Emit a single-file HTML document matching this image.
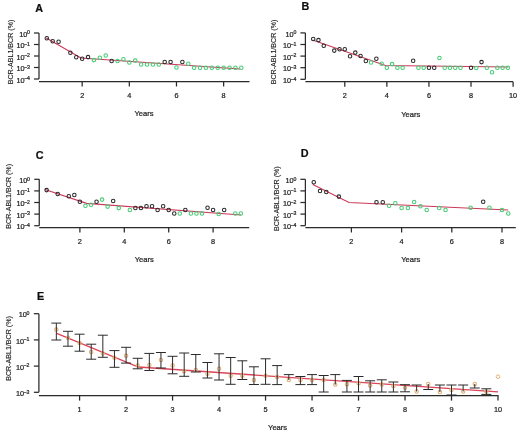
<!DOCTYPE html>
<html><head><meta charset="utf-8"><title>BCR-ABL1 kinetics</title>
<style>html,body{margin:0;padding:0;background:#fff;}body{width:520px;height:433px;overflow:hidden;}svg{display:block;}</style>
</head><body>
<svg width="520" height="433" viewBox="0 0 520 433" font-family='"Liberation Sans", sans-serif'>
<defs><filter id="bl" x="0" y="0" width="520" height="433" filterUnits="userSpaceOnUse"><feGaussianBlur stdDeviation="0.35"/></filter></defs>
<rect width="520" height="433" fill="#fff"/>
<g filter="url(#bl)">
<line x1="39" y1="33" x2="39" y2="79" stroke="#2a2a2a" stroke-width="1.25"/>
<line x1="34" y1="33" x2="39" y2="33" stroke="#2a2a2a" stroke-width="1.25"/>
<text x="30" y="34.3" font-size="5.2" text-anchor="end" font-weight="normal" fill="#222" stroke="#222" stroke-width="0.22">0</text>
<text x="27.3" y="36.6" font-size="7.3" text-anchor="end" font-weight="normal" fill="#222" stroke="#222" stroke-width="0.22">10</text>
<line x1="34" y1="44.5" x2="39" y2="44.5" stroke="#2a2a2a" stroke-width="1.25"/>
<text x="30" y="45.8" font-size="5.2" text-anchor="end" font-weight="normal" fill="#222" stroke="#222" stroke-width="0.22">&#8722;1</text>
<text x="24.7" y="48.1" font-size="7.3" text-anchor="end" font-weight="normal" fill="#222" stroke="#222" stroke-width="0.22">10</text>
<line x1="34" y1="56" x2="39" y2="56" stroke="#2a2a2a" stroke-width="1.25"/>
<text x="30" y="57.3" font-size="5.2" text-anchor="end" font-weight="normal" fill="#222" stroke="#222" stroke-width="0.22">&#8722;2</text>
<text x="24.7" y="59.6" font-size="7.3" text-anchor="end" font-weight="normal" fill="#222" stroke="#222" stroke-width="0.22">10</text>
<line x1="34" y1="67.5" x2="39" y2="67.5" stroke="#2a2a2a" stroke-width="1.25"/>
<text x="30" y="68.8" font-size="5.2" text-anchor="end" font-weight="normal" fill="#222" stroke="#222" stroke-width="0.22">&#8722;3</text>
<text x="24.7" y="71.1" font-size="7.3" text-anchor="end" font-weight="normal" fill="#222" stroke="#222" stroke-width="0.22">10</text>
<line x1="34" y1="79" x2="39" y2="79" stroke="#2a2a2a" stroke-width="1.25"/>
<text x="30" y="80.3" font-size="5.2" text-anchor="end" font-weight="normal" fill="#222" stroke="#222" stroke-width="0.22">&#8722;4</text>
<text x="24.7" y="82.6" font-size="7.3" text-anchor="end" font-weight="normal" fill="#222" stroke="#222" stroke-width="0.22">10</text>
<line x1="39" y1="81.5" x2="249.5" y2="81.5" stroke="#2a2a2a" stroke-width="1.25"/>
<line x1="82.16" y1="81.5" x2="82.16" y2="86.5" stroke="#2a2a2a" stroke-width="1.25"/>
<text x="82.16" y="98" font-size="7.3" text-anchor="middle" font-weight="normal" fill="#222" stroke="#222" stroke-width="0.22">2</text>
<line x1="129.32" y1="81.5" x2="129.32" y2="86.5" stroke="#2a2a2a" stroke-width="1.25"/>
<text x="129.32" y="98" font-size="7.3" text-anchor="middle" font-weight="normal" fill="#222" stroke="#222" stroke-width="0.22">4</text>
<line x1="176.48" y1="81.5" x2="176.48" y2="86.5" stroke="#2a2a2a" stroke-width="1.25"/>
<text x="176.48" y="98" font-size="7.3" text-anchor="middle" font-weight="normal" fill="#222" stroke="#222" stroke-width="0.22">6</text>
<line x1="223.64" y1="81.5" x2="223.64" y2="86.5" stroke="#2a2a2a" stroke-width="1.25"/>
<text x="223.64" y="98" font-size="7.3" text-anchor="middle" font-weight="normal" fill="#222" stroke="#222" stroke-width="0.22">8</text>
<text x="144" y="116.3" font-size="7.6" text-anchor="middle" font-weight="normal" fill="#222" stroke="#222" stroke-width="0.22">Years</text>
<text x="13.2" y="52" font-size="7.1" text-anchor="middle" font-weight="normal" fill="#222" stroke="#222" stroke-width="0.14" transform="rotate(-90 13.2 52)">BCR-ABL1/BCR (%)</text>
<text x="35.3" y="12" font-size="10.8" text-anchor="start" font-weight="bold" fill="#111" stroke="#111" stroke-width="0.22">A</text>
<polyline fill="none" stroke="#cc3858" stroke-width="1.2" points="46.3,38 81,58 240,69"/>
<circle cx="46.79" cy="38.3" r="1.75" fill="none" stroke="#2a2a2a" stroke-width="1.05"/>
<circle cx="52.69" cy="41.2" r="1.75" fill="none" stroke="#2a2a2a" stroke-width="1.05"/>
<circle cx="58.58" cy="41.8" r="1.75" fill="none" stroke="#2a2a2a" stroke-width="1.05"/>
<circle cx="70.37" cy="52.7" r="1.75" fill="none" stroke="#2a2a2a" stroke-width="1.05"/>
<circle cx="76.27" cy="57.3" r="1.75" fill="none" stroke="#2a2a2a" stroke-width="1.05"/>
<circle cx="82.16" cy="58.8" r="1.75" fill="none" stroke="#2a2a2a" stroke-width="1.05"/>
<circle cx="88.05" cy="57.1" r="1.75" fill="none" stroke="#2a2a2a" stroke-width="1.05"/>
<circle cx="93.95" cy="60.1" r="1.75" fill="none" stroke="#45cc75" stroke-width="1.05"/>
<circle cx="99.84" cy="57.7" r="1.75" fill="none" stroke="#45cc75" stroke-width="1.05"/>
<circle cx="105.74" cy="55.5" r="1.75" fill="none" stroke="#45cc75" stroke-width="1.05"/>
<circle cx="111.63" cy="61" r="1.75" fill="none" stroke="#2a2a2a" stroke-width="1.05"/>
<circle cx="117.53" cy="60.9" r="1.75" fill="none" stroke="#45cc75" stroke-width="1.05"/>
<circle cx="123.42" cy="59.2" r="1.75" fill="none" stroke="#45cc75" stroke-width="1.05"/>
<circle cx="129.32" cy="62.4" r="1.75" fill="none" stroke="#45cc75" stroke-width="1.05"/>
<circle cx="135.21" cy="60.6" r="1.75" fill="none" stroke="#45cc75" stroke-width="1.05"/>
<circle cx="141.11" cy="64.4" r="1.75" fill="none" stroke="#45cc75" stroke-width="1.05"/>
<circle cx="147" cy="64.4" r="1.75" fill="none" stroke="#45cc75" stroke-width="1.05"/>
<circle cx="152.9" cy="64.4" r="1.75" fill="none" stroke="#45cc75" stroke-width="1.05"/>
<circle cx="158.79" cy="64.5" r="1.75" fill="none" stroke="#45cc75" stroke-width="1.05"/>
<circle cx="164.69" cy="62" r="1.75" fill="none" stroke="#2a2a2a" stroke-width="1.05"/>
<circle cx="170.58" cy="62" r="1.75" fill="none" stroke="#2a2a2a" stroke-width="1.05"/>
<circle cx="176.48" cy="67.5" r="1.75" fill="none" stroke="#45cc75" stroke-width="1.05"/>
<circle cx="182.38" cy="61.9" r="1.75" fill="none" stroke="#2a2a2a" stroke-width="1.05"/>
<circle cx="188.27" cy="63.8" r="1.75" fill="none" stroke="#45cc75" stroke-width="1.05"/>
<circle cx="194.16" cy="67.8" r="1.75" fill="none" stroke="#45cc75" stroke-width="1.05"/>
<circle cx="200.06" cy="67.8" r="1.75" fill="none" stroke="#45cc75" stroke-width="1.05"/>
<circle cx="205.95" cy="67.8" r="1.75" fill="none" stroke="#45cc75" stroke-width="1.05"/>
<circle cx="211.85" cy="67.8" r="1.75" fill="none" stroke="#45cc75" stroke-width="1.05"/>
<circle cx="217.74" cy="67.8" r="1.75" fill="none" stroke="#45cc75" stroke-width="1.05"/>
<circle cx="223.64" cy="67.8" r="1.75" fill="none" stroke="#45cc75" stroke-width="1.05"/>
<circle cx="229.53" cy="67.8" r="1.75" fill="none" stroke="#45cc75" stroke-width="1.05"/>
<circle cx="235.43" cy="67.8" r="1.75" fill="none" stroke="#45cc75" stroke-width="1.05"/>
<circle cx="241.32" cy="67.8" r="1.75" fill="none" stroke="#45cc75" stroke-width="1.05"/>
<line x1="305.4" y1="32.9" x2="305.4" y2="79.3" stroke="#2a2a2a" stroke-width="1.25"/>
<line x1="300.4" y1="32.9" x2="305.4" y2="32.9" stroke="#2a2a2a" stroke-width="1.25"/>
<text x="296.4" y="34.2" font-size="5.2" text-anchor="end" font-weight="normal" fill="#222" stroke="#222" stroke-width="0.22">0</text>
<text x="293.7" y="36.5" font-size="7.3" text-anchor="end" font-weight="normal" fill="#222" stroke="#222" stroke-width="0.22">10</text>
<line x1="300.4" y1="44.5" x2="305.4" y2="44.5" stroke="#2a2a2a" stroke-width="1.25"/>
<text x="296.4" y="45.8" font-size="5.2" text-anchor="end" font-weight="normal" fill="#222" stroke="#222" stroke-width="0.22">&#8722;1</text>
<text x="291.1" y="48.1" font-size="7.3" text-anchor="end" font-weight="normal" fill="#222" stroke="#222" stroke-width="0.22">10</text>
<line x1="300.4" y1="56.1" x2="305.4" y2="56.1" stroke="#2a2a2a" stroke-width="1.25"/>
<text x="296.4" y="57.4" font-size="5.2" text-anchor="end" font-weight="normal" fill="#222" stroke="#222" stroke-width="0.22">&#8722;2</text>
<text x="291.1" y="59.7" font-size="7.3" text-anchor="end" font-weight="normal" fill="#222" stroke="#222" stroke-width="0.22">10</text>
<line x1="300.4" y1="67.7" x2="305.4" y2="67.7" stroke="#2a2a2a" stroke-width="1.25"/>
<text x="296.4" y="69" font-size="5.2" text-anchor="end" font-weight="normal" fill="#222" stroke="#222" stroke-width="0.22">&#8722;3</text>
<text x="291.1" y="71.3" font-size="7.3" text-anchor="end" font-weight="normal" fill="#222" stroke="#222" stroke-width="0.22">10</text>
<line x1="300.4" y1="79.3" x2="305.4" y2="79.3" stroke="#2a2a2a" stroke-width="1.25"/>
<text x="296.4" y="80.6" font-size="5.2" text-anchor="end" font-weight="normal" fill="#222" stroke="#222" stroke-width="0.22">&#8722;4</text>
<text x="291.1" y="82.9" font-size="7.3" text-anchor="end" font-weight="normal" fill="#222" stroke="#222" stroke-width="0.22">10</text>
<line x1="305.4" y1="81.65" x2="513.1" y2="81.65" stroke="#2a2a2a" stroke-width="1.25"/>
<line x1="344.78" y1="81.65" x2="344.78" y2="86.65" stroke="#2a2a2a" stroke-width="1.25"/>
<text x="344.78" y="98" font-size="7.3" text-anchor="middle" font-weight="normal" fill="#222" stroke="#222" stroke-width="0.22">2</text>
<line x1="386.86" y1="81.65" x2="386.86" y2="86.65" stroke="#2a2a2a" stroke-width="1.25"/>
<text x="386.86" y="98" font-size="7.3" text-anchor="middle" font-weight="normal" fill="#222" stroke="#222" stroke-width="0.22">4</text>
<line x1="428.94" y1="81.65" x2="428.94" y2="86.65" stroke="#2a2a2a" stroke-width="1.25"/>
<text x="428.94" y="98" font-size="7.3" text-anchor="middle" font-weight="normal" fill="#222" stroke="#222" stroke-width="0.22">6</text>
<line x1="471.02" y1="81.65" x2="471.02" y2="86.65" stroke="#2a2a2a" stroke-width="1.25"/>
<text x="471.02" y="98" font-size="7.3" text-anchor="middle" font-weight="normal" fill="#222" stroke="#222" stroke-width="0.22">8</text>
<line x1="513.1" y1="81.65" x2="513.1" y2="86.65" stroke="#2a2a2a" stroke-width="1.25"/>
<text x="513.1" y="98" font-size="7.3" text-anchor="middle" font-weight="normal" fill="#222" stroke="#222" stroke-width="0.22">10</text>
<text x="410.75" y="116.5" font-size="7.6" text-anchor="middle" font-weight="normal" fill="#222" stroke="#222" stroke-width="0.22">Years</text>
<text x="275.6" y="52" font-size="7.1" text-anchor="middle" font-weight="normal" fill="#222" stroke="#222" stroke-width="0.14" transform="rotate(-90 275.6 52)">BCR-ABL1/BCR (%)</text>
<text x="301.6" y="9.7" font-size="10.8" text-anchor="start" font-weight="bold" fill="#111" stroke="#111" stroke-width="0.22">B</text>
<polyline fill="none" stroke="#cc3858" stroke-width="1.2" points="312.5,40 385.5,65.5 508.5,67"/>
<circle cx="313.22" cy="39" r="1.75" fill="none" stroke="#2a2a2a" stroke-width="1.05"/>
<circle cx="318.48" cy="40.1" r="1.75" fill="none" stroke="#2a2a2a" stroke-width="1.05"/>
<circle cx="323.74" cy="45.7" r="1.75" fill="none" stroke="#2a2a2a" stroke-width="1.05"/>
<circle cx="334.26" cy="50.6" r="1.75" fill="none" stroke="#2a2a2a" stroke-width="1.05"/>
<circle cx="339.52" cy="49.2" r="1.75" fill="none" stroke="#2a2a2a" stroke-width="1.05"/>
<circle cx="344.78" cy="49.2" r="1.75" fill="none" stroke="#2a2a2a" stroke-width="1.05"/>
<circle cx="350.04" cy="56.2" r="1.75" fill="none" stroke="#2a2a2a" stroke-width="1.05"/>
<circle cx="355.3" cy="52.6" r="1.75" fill="none" stroke="#2a2a2a" stroke-width="1.05"/>
<circle cx="360.56" cy="56" r="1.75" fill="none" stroke="#2a2a2a" stroke-width="1.05"/>
<circle cx="365.82" cy="60.9" r="1.75" fill="none" stroke="#2a2a2a" stroke-width="1.05"/>
<circle cx="371.08" cy="62.5" r="1.75" fill="none" stroke="#45cc75" stroke-width="1.05"/>
<circle cx="376.34" cy="58.7" r="1.75" fill="none" stroke="#2a2a2a" stroke-width="1.05"/>
<circle cx="381.6" cy="63.8" r="1.75" fill="none" stroke="#45cc75" stroke-width="1.05"/>
<circle cx="386.86" cy="67.8" r="1.75" fill="none" stroke="#45cc75" stroke-width="1.05"/>
<circle cx="392.12" cy="64.1" r="1.75" fill="none" stroke="#45cc75" stroke-width="1.05"/>
<circle cx="397.38" cy="67.8" r="1.75" fill="none" stroke="#45cc75" stroke-width="1.05"/>
<circle cx="402.64" cy="67.8" r="1.75" fill="none" stroke="#45cc75" stroke-width="1.05"/>
<circle cx="413.16" cy="60.8" r="1.75" fill="none" stroke="#2a2a2a" stroke-width="1.05"/>
<circle cx="418.42" cy="67.8" r="1.75" fill="none" stroke="#45cc75" stroke-width="1.05"/>
<circle cx="423.68" cy="67.8" r="1.75" fill="none" stroke="#45cc75" stroke-width="1.05"/>
<circle cx="428.94" cy="67.8" r="1.75" fill="none" stroke="#2a2a2a" stroke-width="1.05"/>
<circle cx="434.2" cy="67.8" r="1.75" fill="none" stroke="#2a2a2a" stroke-width="1.05"/>
<circle cx="439.46" cy="58" r="1.75" fill="none" stroke="#45cc75" stroke-width="1.05"/>
<circle cx="444.72" cy="67.8" r="1.75" fill="none" stroke="#45cc75" stroke-width="1.05"/>
<circle cx="449.98" cy="67.8" r="1.75" fill="none" stroke="#45cc75" stroke-width="1.05"/>
<circle cx="455.24" cy="67.8" r="1.75" fill="none" stroke="#45cc75" stroke-width="1.05"/>
<circle cx="460.5" cy="67.8" r="1.75" fill="none" stroke="#45cc75" stroke-width="1.05"/>
<circle cx="471.02" cy="67.8" r="1.75" fill="none" stroke="#2a2a2a" stroke-width="1.05"/>
<circle cx="476.28" cy="68" r="1.75" fill="none" stroke="#45cc75" stroke-width="1.05"/>
<circle cx="481.54" cy="62.1" r="1.75" fill="none" stroke="#2a2a2a" stroke-width="1.05"/>
<circle cx="486.8" cy="67.8" r="1.75" fill="none" stroke="#45cc75" stroke-width="1.05"/>
<circle cx="492.06" cy="72.3" r="1.75" fill="none" stroke="#45cc75" stroke-width="1.05"/>
<circle cx="497.32" cy="67.8" r="1.75" fill="none" stroke="#45cc75" stroke-width="1.05"/>
<circle cx="502.58" cy="67.8" r="1.75" fill="none" stroke="#45cc75" stroke-width="1.05"/>
<circle cx="507.84" cy="67.8" r="1.75" fill="none" stroke="#45cc75" stroke-width="1.05"/>
<line x1="39.25" y1="179.3" x2="39.25" y2="225.7" stroke="#2a2a2a" stroke-width="1.25"/>
<line x1="34.25" y1="179.3" x2="39.25" y2="179.3" stroke="#2a2a2a" stroke-width="1.25"/>
<text x="30" y="180.6" font-size="5.2" text-anchor="end" font-weight="normal" fill="#222" stroke="#222" stroke-width="0.22">0</text>
<text x="27.3" y="182.9" font-size="7.3" text-anchor="end" font-weight="normal" fill="#222" stroke="#222" stroke-width="0.22">10</text>
<line x1="34.25" y1="190.9" x2="39.25" y2="190.9" stroke="#2a2a2a" stroke-width="1.25"/>
<text x="30" y="192.2" font-size="5.2" text-anchor="end" font-weight="normal" fill="#222" stroke="#222" stroke-width="0.22">&#8722;1</text>
<text x="24.7" y="194.5" font-size="7.3" text-anchor="end" font-weight="normal" fill="#222" stroke="#222" stroke-width="0.22">10</text>
<line x1="34.25" y1="202.5" x2="39.25" y2="202.5" stroke="#2a2a2a" stroke-width="1.25"/>
<text x="30" y="203.8" font-size="5.2" text-anchor="end" font-weight="normal" fill="#222" stroke="#222" stroke-width="0.22">&#8722;2</text>
<text x="24.7" y="206.1" font-size="7.3" text-anchor="end" font-weight="normal" fill="#222" stroke="#222" stroke-width="0.22">10</text>
<line x1="34.25" y1="214.1" x2="39.25" y2="214.1" stroke="#2a2a2a" stroke-width="1.25"/>
<text x="30" y="215.4" font-size="5.2" text-anchor="end" font-weight="normal" fill="#222" stroke="#222" stroke-width="0.22">&#8722;3</text>
<text x="24.7" y="217.7" font-size="7.3" text-anchor="end" font-weight="normal" fill="#222" stroke="#222" stroke-width="0.22">10</text>
<line x1="34.25" y1="225.7" x2="39.25" y2="225.7" stroke="#2a2a2a" stroke-width="1.25"/>
<text x="30" y="227" font-size="5.2" text-anchor="end" font-weight="normal" fill="#222" stroke="#222" stroke-width="0.22">&#8722;4</text>
<text x="24.7" y="229.3" font-size="7.3" text-anchor="end" font-weight="normal" fill="#222" stroke="#222" stroke-width="0.22">10</text>
<line x1="39.25" y1="227.5" x2="249.2" y2="227.5" stroke="#2a2a2a" stroke-width="1.25"/>
<line x1="79.9" y1="227.5" x2="79.9" y2="232.5" stroke="#2a2a2a" stroke-width="1.25"/>
<text x="79.9" y="244" font-size="7.3" text-anchor="middle" font-weight="normal" fill="#222" stroke="#222" stroke-width="0.22">2</text>
<line x1="124.3" y1="227.5" x2="124.3" y2="232.5" stroke="#2a2a2a" stroke-width="1.25"/>
<text x="124.3" y="244" font-size="7.3" text-anchor="middle" font-weight="normal" fill="#222" stroke="#222" stroke-width="0.22">4</text>
<line x1="168.7" y1="227.5" x2="168.7" y2="232.5" stroke="#2a2a2a" stroke-width="1.25"/>
<text x="168.7" y="244" font-size="7.3" text-anchor="middle" font-weight="normal" fill="#222" stroke="#222" stroke-width="0.22">6</text>
<line x1="213.1" y1="227.5" x2="213.1" y2="232.5" stroke="#2a2a2a" stroke-width="1.25"/>
<text x="213.1" y="244" font-size="7.3" text-anchor="middle" font-weight="normal" fill="#222" stroke="#222" stroke-width="0.22">8</text>
<text x="144.25" y="262" font-size="7.6" text-anchor="middle" font-weight="normal" fill="#222" stroke="#222" stroke-width="0.22">Years</text>
<text x="10.7" y="196.3" font-size="7.1" text-anchor="middle" font-weight="normal" fill="#222" stroke="#222" stroke-width="0.14" transform="rotate(-90 10.7 196.3)">BCR-ABL1/BCR (%)</text>
<text x="35.75" y="158.5" font-size="10.8" text-anchor="start" font-weight="bold" fill="#111" stroke="#111" stroke-width="0.22">C</text>
<polyline fill="none" stroke="#cc3858" stroke-width="1.2" points="44.9,189.5 86.6,203.4 241,215"/>
<circle cx="46.6" cy="190.1" r="1.75" fill="none" stroke="#2a2a2a" stroke-width="1.05"/>
<circle cx="57.7" cy="193.9" r="1.75" fill="none" stroke="#2a2a2a" stroke-width="1.05"/>
<circle cx="68.8" cy="196.3" r="1.75" fill="none" stroke="#2a2a2a" stroke-width="1.05"/>
<circle cx="74.35" cy="195" r="1.75" fill="none" stroke="#2a2a2a" stroke-width="1.05"/>
<circle cx="79.9" cy="201.7" r="1.75" fill="none" stroke="#2a2a2a" stroke-width="1.05"/>
<circle cx="85.45" cy="205.7" r="1.75" fill="none" stroke="#45cc75" stroke-width="1.05"/>
<circle cx="91" cy="204.8" r="1.75" fill="none" stroke="#45cc75" stroke-width="1.05"/>
<circle cx="96.55" cy="201.7" r="1.75" fill="none" stroke="#2a2a2a" stroke-width="1.05"/>
<circle cx="102.1" cy="199.6" r="1.75" fill="none" stroke="#45cc75" stroke-width="1.05"/>
<circle cx="107.65" cy="206.6" r="1.75" fill="none" stroke="#45cc75" stroke-width="1.05"/>
<circle cx="113.2" cy="200.9" r="1.75" fill="none" stroke="#2a2a2a" stroke-width="1.05"/>
<circle cx="118.75" cy="208.1" r="1.75" fill="none" stroke="#45cc75" stroke-width="1.05"/>
<circle cx="129.85" cy="210" r="1.75" fill="none" stroke="#45cc75" stroke-width="1.05"/>
<circle cx="135.4" cy="208" r="1.75" fill="none" stroke="#2a2a2a" stroke-width="1.05"/>
<circle cx="140.95" cy="208" r="1.75" fill="none" stroke="#2a2a2a" stroke-width="1.05"/>
<circle cx="146.5" cy="206.3" r="1.75" fill="none" stroke="#2a2a2a" stroke-width="1.05"/>
<circle cx="152.05" cy="206.3" r="1.75" fill="none" stroke="#2a2a2a" stroke-width="1.05"/>
<circle cx="157.6" cy="210" r="1.75" fill="none" stroke="#2a2a2a" stroke-width="1.05"/>
<circle cx="163.15" cy="206.3" r="1.75" fill="none" stroke="#2a2a2a" stroke-width="1.05"/>
<circle cx="168.7" cy="210" r="1.75" fill="none" stroke="#2a2a2a" stroke-width="1.05"/>
<circle cx="174.25" cy="213.5" r="1.75" fill="none" stroke="#2a2a2a" stroke-width="1.05"/>
<circle cx="179.8" cy="213.5" r="1.75" fill="none" stroke="#45cc75" stroke-width="1.05"/>
<circle cx="185.35" cy="210" r="1.75" fill="none" stroke="#2a2a2a" stroke-width="1.05"/>
<circle cx="190.9" cy="213.5" r="1.75" fill="none" stroke="#45cc75" stroke-width="1.05"/>
<circle cx="196.45" cy="213.5" r="1.75" fill="none" stroke="#45cc75" stroke-width="1.05"/>
<circle cx="202" cy="213.5" r="1.75" fill="none" stroke="#45cc75" stroke-width="1.05"/>
<circle cx="207.55" cy="207.7" r="1.75" fill="none" stroke="#2a2a2a" stroke-width="1.05"/>
<circle cx="213.1" cy="210" r="1.75" fill="none" stroke="#2a2a2a" stroke-width="1.05"/>
<circle cx="218.65" cy="214" r="1.75" fill="none" stroke="#45cc75" stroke-width="1.05"/>
<circle cx="224.2" cy="210" r="1.75" fill="none" stroke="#2a2a2a" stroke-width="1.05"/>
<circle cx="235.3" cy="213.5" r="1.75" fill="none" stroke="#45cc75" stroke-width="1.05"/>
<circle cx="240.85" cy="213.5" r="1.75" fill="none" stroke="#45cc75" stroke-width="1.05"/>
<line x1="305.4" y1="179.3" x2="305.4" y2="225.7" stroke="#2a2a2a" stroke-width="1.25"/>
<line x1="300.4" y1="179.3" x2="305.4" y2="179.3" stroke="#2a2a2a" stroke-width="1.25"/>
<text x="296.4" y="180.6" font-size="5.2" text-anchor="end" font-weight="normal" fill="#222" stroke="#222" stroke-width="0.22">0</text>
<text x="293.7" y="182.9" font-size="7.3" text-anchor="end" font-weight="normal" fill="#222" stroke="#222" stroke-width="0.22">10</text>
<line x1="300.4" y1="190.9" x2="305.4" y2="190.9" stroke="#2a2a2a" stroke-width="1.25"/>
<text x="296.4" y="192.2" font-size="5.2" text-anchor="end" font-weight="normal" fill="#222" stroke="#222" stroke-width="0.22">&#8722;1</text>
<text x="291.1" y="194.5" font-size="7.3" text-anchor="end" font-weight="normal" fill="#222" stroke="#222" stroke-width="0.22">10</text>
<line x1="300.4" y1="202.5" x2="305.4" y2="202.5" stroke="#2a2a2a" stroke-width="1.25"/>
<text x="296.4" y="203.8" font-size="5.2" text-anchor="end" font-weight="normal" fill="#222" stroke="#222" stroke-width="0.22">&#8722;2</text>
<text x="291.1" y="206.1" font-size="7.3" text-anchor="end" font-weight="normal" fill="#222" stroke="#222" stroke-width="0.22">10</text>
<line x1="300.4" y1="214.1" x2="305.4" y2="214.1" stroke="#2a2a2a" stroke-width="1.25"/>
<text x="296.4" y="215.4" font-size="5.2" text-anchor="end" font-weight="normal" fill="#222" stroke="#222" stroke-width="0.22">&#8722;3</text>
<text x="291.1" y="217.7" font-size="7.3" text-anchor="end" font-weight="normal" fill="#222" stroke="#222" stroke-width="0.22">10</text>
<line x1="300.4" y1="225.7" x2="305.4" y2="225.7" stroke="#2a2a2a" stroke-width="1.25"/>
<text x="296.4" y="227" font-size="5.2" text-anchor="end" font-weight="normal" fill="#222" stroke="#222" stroke-width="0.22">&#8722;4</text>
<text x="291.1" y="229.3" font-size="7.3" text-anchor="end" font-weight="normal" fill="#222" stroke="#222" stroke-width="0.22">10</text>
<line x1="305.4" y1="227.5" x2="515.8" y2="227.5" stroke="#2a2a2a" stroke-width="1.25"/>
<line x1="351.4" y1="227.5" x2="351.4" y2="232.5" stroke="#2a2a2a" stroke-width="1.25"/>
<text x="351.4" y="244" font-size="7.3" text-anchor="middle" font-weight="normal" fill="#222" stroke="#222" stroke-width="0.22">2</text>
<line x1="401.6" y1="227.5" x2="401.6" y2="232.5" stroke="#2a2a2a" stroke-width="1.25"/>
<text x="401.6" y="244" font-size="7.3" text-anchor="middle" font-weight="normal" fill="#222" stroke="#222" stroke-width="0.22">4</text>
<line x1="451.8" y1="227.5" x2="451.8" y2="232.5" stroke="#2a2a2a" stroke-width="1.25"/>
<text x="451.8" y="244" font-size="7.3" text-anchor="middle" font-weight="normal" fill="#222" stroke="#222" stroke-width="0.22">6</text>
<line x1="502" y1="227.5" x2="502" y2="232.5" stroke="#2a2a2a" stroke-width="1.25"/>
<text x="502" y="244" font-size="7.3" text-anchor="middle" font-weight="normal" fill="#222" stroke="#222" stroke-width="0.22">8</text>
<text x="410.75" y="262" font-size="7.6" text-anchor="middle" font-weight="normal" fill="#222" stroke="#222" stroke-width="0.22">Years</text>
<text x="278.8" y="198.6" font-size="7.1" text-anchor="middle" font-weight="normal" fill="#222" stroke="#222" stroke-width="0.14" transform="rotate(-90 278.8 198.6)">BCR-ABL1/BCR (%)</text>
<text x="300.75" y="157.3" font-size="10.8" text-anchor="start" font-weight="bold" fill="#111" stroke="#111" stroke-width="0.22">D</text>
<polyline fill="none" stroke="#cc3858" stroke-width="1.2" points="312.8,184.5 349,202.5 508.2,210"/>
<circle cx="313.75" cy="182.3" r="1.75" fill="none" stroke="#2a2a2a" stroke-width="1.05"/>
<circle cx="320.02" cy="190.9" r="1.75" fill="none" stroke="#2a2a2a" stroke-width="1.05"/>
<circle cx="326.3" cy="192" r="1.75" fill="none" stroke="#2a2a2a" stroke-width="1.05"/>
<circle cx="338.85" cy="196.6" r="1.75" fill="none" stroke="#2a2a2a" stroke-width="1.05"/>
<circle cx="376.5" cy="202.2" r="1.75" fill="none" stroke="#2a2a2a" stroke-width="1.05"/>
<circle cx="382.77" cy="202.2" r="1.75" fill="none" stroke="#2a2a2a" stroke-width="1.05"/>
<circle cx="389.05" cy="205.8" r="1.75" fill="none" stroke="#45cc75" stroke-width="1.05"/>
<circle cx="395.32" cy="203.2" r="1.75" fill="none" stroke="#45cc75" stroke-width="1.05"/>
<circle cx="401.6" cy="208" r="1.75" fill="none" stroke="#45cc75" stroke-width="1.05"/>
<circle cx="407.88" cy="208" r="1.75" fill="none" stroke="#45cc75" stroke-width="1.05"/>
<circle cx="414.15" cy="202" r="1.75" fill="none" stroke="#45cc75" stroke-width="1.05"/>
<circle cx="420.43" cy="206.3" r="1.75" fill="none" stroke="#45cc75" stroke-width="1.05"/>
<circle cx="426.7" cy="210" r="1.75" fill="none" stroke="#45cc75" stroke-width="1.05"/>
<circle cx="439.25" cy="208" r="1.75" fill="none" stroke="#45cc75" stroke-width="1.05"/>
<circle cx="445.52" cy="210" r="1.75" fill="none" stroke="#45cc75" stroke-width="1.05"/>
<circle cx="470.62" cy="207.8" r="1.75" fill="none" stroke="#45cc75" stroke-width="1.05"/>
<circle cx="483.18" cy="201.8" r="1.75" fill="none" stroke="#2a2a2a" stroke-width="1.05"/>
<circle cx="489.45" cy="207.8" r="1.75" fill="none" stroke="#45cc75" stroke-width="1.05"/>
<circle cx="502" cy="210" r="1.75" fill="none" stroke="#45cc75" stroke-width="1.05"/>
<circle cx="508.27" cy="213.5" r="1.75" fill="none" stroke="#45cc75" stroke-width="1.05"/>
<line x1="38.9" y1="313.7" x2="38.9" y2="392.3" stroke="#2a2a2a" stroke-width="1.25"/>
<line x1="33.9" y1="313.7" x2="38.9" y2="313.7" stroke="#2a2a2a" stroke-width="1.25"/>
<text x="29.5" y="315" font-size="5.2" text-anchor="end" font-weight="normal" fill="#222" stroke="#222" stroke-width="0.22">0</text>
<text x="26.8" y="317.3" font-size="7.3" text-anchor="end" font-weight="normal" fill="#222" stroke="#222" stroke-width="0.22">10</text>
<line x1="33.9" y1="339.9" x2="38.9" y2="339.9" stroke="#2a2a2a" stroke-width="1.25"/>
<text x="29.5" y="341.2" font-size="5.2" text-anchor="end" font-weight="normal" fill="#222" stroke="#222" stroke-width="0.22">&#8722;1</text>
<text x="24.2" y="343.5" font-size="7.3" text-anchor="end" font-weight="normal" fill="#222" stroke="#222" stroke-width="0.22">10</text>
<line x1="33.9" y1="366.1" x2="38.9" y2="366.1" stroke="#2a2a2a" stroke-width="1.25"/>
<text x="29.5" y="367.4" font-size="5.2" text-anchor="end" font-weight="normal" fill="#222" stroke="#222" stroke-width="0.22">&#8722;2</text>
<text x="24.2" y="369.7" font-size="7.3" text-anchor="end" font-weight="normal" fill="#222" stroke="#222" stroke-width="0.22">10</text>
<line x1="33.9" y1="392.3" x2="38.9" y2="392.3" stroke="#2a2a2a" stroke-width="1.25"/>
<text x="29.5" y="393.6" font-size="5.2" text-anchor="end" font-weight="normal" fill="#222" stroke="#222" stroke-width="0.22">&#8722;3</text>
<text x="24.2" y="395.9" font-size="7.3" text-anchor="end" font-weight="normal" fill="#222" stroke="#222" stroke-width="0.22">10</text>
<line x1="38.9" y1="395.6" x2="498.5" y2="395.6" stroke="#2a2a2a" stroke-width="1.25"/>
<line x1="79.59" y1="395.6" x2="79.59" y2="400.6" stroke="#2a2a2a" stroke-width="1.25"/>
<text x="79.59" y="412" font-size="7.3" text-anchor="middle" font-weight="normal" fill="#222" stroke="#222" stroke-width="0.22">1</text>
<line x1="126.08" y1="395.6" x2="126.08" y2="400.6" stroke="#2a2a2a" stroke-width="1.25"/>
<text x="126.08" y="412" font-size="7.3" text-anchor="middle" font-weight="normal" fill="#222" stroke="#222" stroke-width="0.22">2</text>
<line x1="172.57" y1="395.6" x2="172.57" y2="400.6" stroke="#2a2a2a" stroke-width="1.25"/>
<text x="172.57" y="412" font-size="7.3" text-anchor="middle" font-weight="normal" fill="#222" stroke="#222" stroke-width="0.22">3</text>
<line x1="219.06" y1="395.6" x2="219.06" y2="400.6" stroke="#2a2a2a" stroke-width="1.25"/>
<text x="219.06" y="412" font-size="7.3" text-anchor="middle" font-weight="normal" fill="#222" stroke="#222" stroke-width="0.22">4</text>
<line x1="265.55" y1="395.6" x2="265.55" y2="400.6" stroke="#2a2a2a" stroke-width="1.25"/>
<text x="265.55" y="412" font-size="7.3" text-anchor="middle" font-weight="normal" fill="#222" stroke="#222" stroke-width="0.22">5</text>
<line x1="312.04" y1="395.6" x2="312.04" y2="400.6" stroke="#2a2a2a" stroke-width="1.25"/>
<text x="312.04" y="412" font-size="7.3" text-anchor="middle" font-weight="normal" fill="#222" stroke="#222" stroke-width="0.22">6</text>
<line x1="358.53" y1="395.6" x2="358.53" y2="400.6" stroke="#2a2a2a" stroke-width="1.25"/>
<text x="358.53" y="412" font-size="7.3" text-anchor="middle" font-weight="normal" fill="#222" stroke="#222" stroke-width="0.22">7</text>
<line x1="405.02" y1="395.6" x2="405.02" y2="400.6" stroke="#2a2a2a" stroke-width="1.25"/>
<text x="405.02" y="412" font-size="7.3" text-anchor="middle" font-weight="normal" fill="#222" stroke="#222" stroke-width="0.22">8</text>
<line x1="451.51" y1="395.6" x2="451.51" y2="400.6" stroke="#2a2a2a" stroke-width="1.25"/>
<text x="451.51" y="412" font-size="7.3" text-anchor="middle" font-weight="normal" fill="#222" stroke="#222" stroke-width="0.22">9</text>
<line x1="498" y1="395.6" x2="498" y2="400.6" stroke="#2a2a2a" stroke-width="1.25"/>
<text x="498" y="412" font-size="7.3" text-anchor="middle" font-weight="normal" fill="#222" stroke="#222" stroke-width="0.22">10</text>
<text x="277.6" y="430.4" font-size="7.6" text-anchor="middle" font-weight="normal" fill="#222" stroke="#222" stroke-width="0.22">Years</text>
<text x="11" y="348.5" font-size="7.1" text-anchor="middle" font-weight="normal" fill="#222" stroke="#222" stroke-width="0.14" transform="rotate(-90 11 348.5)">BCR-ABL1/BCR (%)</text>
<text x="37.1" y="299.6" font-size="10.8" text-anchor="start" font-weight="bold" fill="#111" stroke="#111" stroke-width="0.22">E</text>
<polyline fill="none" stroke="#dc4458" stroke-width="1.35" points="56.7,333.3 138.5,367 498,391.8"/>
<circle cx="56.34" cy="329.6" r="1.7" fill="none" stroke="#e2b07a" stroke-width="1.1"/>
<line x1="56.34" y1="323.1" x2="56.34" y2="340" stroke="#2b2b2b" stroke-width="1.0"/>
<line x1="51.34" y1="323.1" x2="61.34" y2="323.1" stroke="#2b2b2b" stroke-width="1.0"/>
<line x1="51.34" y1="340" x2="61.34" y2="340" stroke="#2b2b2b" stroke-width="1.0"/>
<circle cx="67.97" cy="337.7" r="1.7" fill="none" stroke="#e2b07a" stroke-width="1.1"/>
<line x1="67.97" y1="331.3" x2="67.97" y2="346.2" stroke="#2b2b2b" stroke-width="1.0"/>
<line x1="62.97" y1="331.3" x2="72.97" y2="331.3" stroke="#2b2b2b" stroke-width="1.0"/>
<line x1="62.97" y1="346.2" x2="72.97" y2="346.2" stroke="#2b2b2b" stroke-width="1.0"/>
<circle cx="79.59" cy="342.9" r="1.7" fill="none" stroke="#e2b07a" stroke-width="1.1"/>
<line x1="79.59" y1="334.2" x2="79.59" y2="351.2" stroke="#2b2b2b" stroke-width="1.0"/>
<line x1="74.59" y1="334.2" x2="84.59" y2="334.2" stroke="#2b2b2b" stroke-width="1.0"/>
<line x1="74.59" y1="351.2" x2="84.59" y2="351.2" stroke="#2b2b2b" stroke-width="1.0"/>
<circle cx="91.21" cy="351.9" r="1.7" fill="none" stroke="#e2b07a" stroke-width="1.1"/>
<line x1="91.21" y1="344.2" x2="91.21" y2="359.2" stroke="#2b2b2b" stroke-width="1.0"/>
<line x1="86.21" y1="344.2" x2="96.21" y2="344.2" stroke="#2b2b2b" stroke-width="1.0"/>
<line x1="86.21" y1="359.2" x2="96.21" y2="359.2" stroke="#2b2b2b" stroke-width="1.0"/>
<circle cx="102.84" cy="353.5" r="1.7" fill="none" stroke="#e2b07a" stroke-width="1.1"/>
<line x1="102.84" y1="335.2" x2="102.84" y2="357.3" stroke="#2b2b2b" stroke-width="1.0"/>
<line x1="97.84" y1="335.2" x2="107.84" y2="335.2" stroke="#2b2b2b" stroke-width="1.0"/>
<line x1="97.84" y1="357.3" x2="107.84" y2="357.3" stroke="#2b2b2b" stroke-width="1.0"/>
<circle cx="114.46" cy="357.7" r="1.7" fill="none" stroke="#e2b07a" stroke-width="1.1"/>
<line x1="114.46" y1="350.6" x2="114.46" y2="367.3" stroke="#2b2b2b" stroke-width="1.0"/>
<line x1="109.46" y1="350.6" x2="119.46" y2="350.6" stroke="#2b2b2b" stroke-width="1.0"/>
<line x1="109.46" y1="367.3" x2="119.46" y2="367.3" stroke="#2b2b2b" stroke-width="1.0"/>
<circle cx="126.08" cy="355.8" r="1.7" fill="none" stroke="#e2b07a" stroke-width="1.1"/>
<line x1="126.08" y1="347.3" x2="126.08" y2="363.1" stroke="#2b2b2b" stroke-width="1.0"/>
<line x1="121.08" y1="347.3" x2="131.08" y2="347.3" stroke="#2b2b2b" stroke-width="1.0"/>
<line x1="121.08" y1="363.1" x2="131.08" y2="363.1" stroke="#2b2b2b" stroke-width="1.0"/>
<circle cx="137.7" cy="365.4" r="1.7" fill="none" stroke="#e2b07a" stroke-width="1.1"/>
<line x1="137.7" y1="358.3" x2="137.7" y2="368.8" stroke="#2b2b2b" stroke-width="1.0"/>
<line x1="132.7" y1="358.3" x2="142.7" y2="358.3" stroke="#2b2b2b" stroke-width="1.0"/>
<line x1="132.7" y1="368.8" x2="142.7" y2="368.8" stroke="#2b2b2b" stroke-width="1.0"/>
<circle cx="149.33" cy="365" r="1.7" fill="none" stroke="#e2b07a" stroke-width="1.1"/>
<line x1="149.33" y1="353.4" x2="149.33" y2="370.5" stroke="#2b2b2b" stroke-width="1.0"/>
<line x1="144.33" y1="353.4" x2="154.33" y2="353.4" stroke="#2b2b2b" stroke-width="1.0"/>
<line x1="144.33" y1="370.5" x2="154.33" y2="370.5" stroke="#2b2b2b" stroke-width="1.0"/>
<circle cx="160.95" cy="360" r="1.7" fill="none" stroke="#e2b07a" stroke-width="1.1"/>
<line x1="160.95" y1="352.5" x2="160.95" y2="368" stroke="#2b2b2b" stroke-width="1.0"/>
<line x1="155.95" y1="352.5" x2="165.95" y2="352.5" stroke="#2b2b2b" stroke-width="1.0"/>
<line x1="155.95" y1="368" x2="165.95" y2="368" stroke="#2b2b2b" stroke-width="1.0"/>
<circle cx="172.57" cy="365.5" r="1.7" fill="none" stroke="#e2b07a" stroke-width="1.1"/>
<line x1="172.57" y1="356.3" x2="172.57" y2="373.8" stroke="#2b2b2b" stroke-width="1.0"/>
<line x1="167.57" y1="356.3" x2="177.57" y2="356.3" stroke="#2b2b2b" stroke-width="1.0"/>
<line x1="167.57" y1="373.8" x2="177.57" y2="373.8" stroke="#2b2b2b" stroke-width="1.0"/>
<circle cx="184.19" cy="371.3" r="1.7" fill="none" stroke="#e2b07a" stroke-width="1.1"/>
<line x1="184.19" y1="353" x2="184.19" y2="376.3" stroke="#2b2b2b" stroke-width="1.0"/>
<line x1="179.19" y1="353" x2="189.19" y2="353" stroke="#2b2b2b" stroke-width="1.0"/>
<line x1="179.19" y1="376.3" x2="189.19" y2="376.3" stroke="#2b2b2b" stroke-width="1.0"/>
<circle cx="195.81" cy="370" r="1.7" fill="none" stroke="#e2b07a" stroke-width="1.1"/>
<line x1="195.81" y1="354.5" x2="195.81" y2="372" stroke="#2b2b2b" stroke-width="1.0"/>
<line x1="190.81" y1="354.5" x2="200.81" y2="354.5" stroke="#2b2b2b" stroke-width="1.0"/>
<line x1="190.81" y1="372" x2="200.81" y2="372" stroke="#2b2b2b" stroke-width="1.0"/>
<circle cx="207.44" cy="373.8" r="1.7" fill="none" stroke="#e2b07a" stroke-width="1.1"/>
<line x1="207.44" y1="362.5" x2="207.44" y2="378" stroke="#2b2b2b" stroke-width="1.0"/>
<line x1="202.44" y1="362.5" x2="212.44" y2="362.5" stroke="#2b2b2b" stroke-width="1.0"/>
<line x1="202.44" y1="378" x2="212.44" y2="378" stroke="#2b2b2b" stroke-width="1.0"/>
<circle cx="219.06" cy="368.8" r="1.7" fill="none" stroke="#e2b07a" stroke-width="1.1"/>
<line x1="219.06" y1="353.8" x2="219.06" y2="380" stroke="#2b2b2b" stroke-width="1.0"/>
<line x1="214.06" y1="353.8" x2="224.06" y2="353.8" stroke="#2b2b2b" stroke-width="1.0"/>
<line x1="214.06" y1="380" x2="224.06" y2="380" stroke="#2b2b2b" stroke-width="1.0"/>
<circle cx="230.68" cy="375.8" r="1.7" fill="none" stroke="#e2b07a" stroke-width="1.1"/>
<line x1="230.68" y1="357.5" x2="230.68" y2="384.3" stroke="#2b2b2b" stroke-width="1.0"/>
<line x1="225.68" y1="357.5" x2="235.68" y2="357.5" stroke="#2b2b2b" stroke-width="1.0"/>
<line x1="225.68" y1="384.3" x2="235.68" y2="384.3" stroke="#2b2b2b" stroke-width="1.0"/>
<circle cx="242.31" cy="375.8" r="1.7" fill="none" stroke="#e2b07a" stroke-width="1.1"/>
<line x1="242.31" y1="360.8" x2="242.31" y2="379.5" stroke="#2b2b2b" stroke-width="1.0"/>
<line x1="237.31" y1="360.8" x2="247.31" y2="360.8" stroke="#2b2b2b" stroke-width="1.0"/>
<line x1="237.31" y1="379.5" x2="247.31" y2="379.5" stroke="#2b2b2b" stroke-width="1.0"/>
<circle cx="253.93" cy="380" r="1.7" fill="none" stroke="#e2b07a" stroke-width="1.1"/>
<line x1="253.93" y1="366.8" x2="253.93" y2="384.5" stroke="#2b2b2b" stroke-width="1.0"/>
<line x1="248.93" y1="366.8" x2="258.93" y2="366.8" stroke="#2b2b2b" stroke-width="1.0"/>
<line x1="248.93" y1="384.5" x2="258.93" y2="384.5" stroke="#2b2b2b" stroke-width="1.0"/>
<circle cx="265.55" cy="375.8" r="1.7" fill="none" stroke="#e2b07a" stroke-width="1.1"/>
<line x1="265.55" y1="358.8" x2="265.55" y2="384.3" stroke="#2b2b2b" stroke-width="1.0"/>
<line x1="260.55" y1="358.8" x2="270.55" y2="358.8" stroke="#2b2b2b" stroke-width="1.0"/>
<line x1="260.55" y1="384.3" x2="270.55" y2="384.3" stroke="#2b2b2b" stroke-width="1.0"/>
<circle cx="277.17" cy="376.9" r="1.7" fill="none" stroke="#e2b07a" stroke-width="1.1"/>
<line x1="277.17" y1="365.6" x2="277.17" y2="384.6" stroke="#2b2b2b" stroke-width="1.0"/>
<line x1="272.17" y1="365.6" x2="282.17" y2="365.6" stroke="#2b2b2b" stroke-width="1.0"/>
<line x1="272.17" y1="384.6" x2="282.17" y2="384.6" stroke="#2b2b2b" stroke-width="1.0"/>
<circle cx="288.8" cy="380" r="1.7" fill="none" stroke="#e2b07a" stroke-width="1.1"/>
<line x1="288.8" y1="374.6" x2="288.8" y2="380" stroke="#2b2b2b" stroke-width="1.0"/>
<line x1="283.8" y1="374.6" x2="293.8" y2="374.6" stroke="#2b2b2b" stroke-width="1.0"/>
<circle cx="300.42" cy="380" r="1.7" fill="none" stroke="#e2b07a" stroke-width="1.1"/>
<line x1="300.42" y1="376.5" x2="300.42" y2="384.6" stroke="#2b2b2b" stroke-width="1.0"/>
<line x1="295.42" y1="376.5" x2="305.42" y2="376.5" stroke="#2b2b2b" stroke-width="1.0"/>
<line x1="295.42" y1="384.6" x2="305.42" y2="384.6" stroke="#2b2b2b" stroke-width="1.0"/>
<circle cx="312.04" cy="380" r="1.7" fill="none" stroke="#e2b07a" stroke-width="1.1"/>
<line x1="312.04" y1="374.6" x2="312.04" y2="384.6" stroke="#2b2b2b" stroke-width="1.0"/>
<line x1="307.04" y1="374.6" x2="317.04" y2="374.6" stroke="#2b2b2b" stroke-width="1.0"/>
<line x1="307.04" y1="384.6" x2="317.04" y2="384.6" stroke="#2b2b2b" stroke-width="1.0"/>
<circle cx="323.66" cy="380" r="1.7" fill="none" stroke="#e2b07a" stroke-width="1.1"/>
<line x1="323.66" y1="375.5" x2="323.66" y2="392" stroke="#2b2b2b" stroke-width="1.0"/>
<line x1="318.66" y1="375.5" x2="328.66" y2="375.5" stroke="#2b2b2b" stroke-width="1.0"/>
<line x1="318.66" y1="392" x2="328.66" y2="392" stroke="#2b2b2b" stroke-width="1.0"/>
<circle cx="335.29" cy="384.6" r="1.7" fill="none" stroke="#e2b07a" stroke-width="1.1"/>
<line x1="335.29" y1="374.6" x2="335.29" y2="384.6" stroke="#2b2b2b" stroke-width="1.0"/>
<line x1="330.29" y1="374.6" x2="340.29" y2="374.6" stroke="#2b2b2b" stroke-width="1.0"/>
<circle cx="346.91" cy="384.2" r="1.7" fill="none" stroke="#e2b07a" stroke-width="1.1"/>
<line x1="346.91" y1="380.4" x2="346.91" y2="392" stroke="#2b2b2b" stroke-width="1.0"/>
<line x1="341.91" y1="380.4" x2="351.91" y2="380.4" stroke="#2b2b2b" stroke-width="1.0"/>
<line x1="341.91" y1="392" x2="351.91" y2="392" stroke="#2b2b2b" stroke-width="1.0"/>
<circle cx="358.53" cy="383.3" r="1.7" fill="none" stroke="#e2b07a" stroke-width="1.1"/>
<line x1="358.53" y1="376.5" x2="358.53" y2="392" stroke="#2b2b2b" stroke-width="1.0"/>
<line x1="353.53" y1="376.5" x2="363.53" y2="376.5" stroke="#2b2b2b" stroke-width="1.0"/>
<line x1="353.53" y1="392" x2="363.53" y2="392" stroke="#2b2b2b" stroke-width="1.0"/>
<circle cx="370.15" cy="385.6" r="1.7" fill="none" stroke="#e2b07a" stroke-width="1.1"/>
<line x1="370.15" y1="380.8" x2="370.15" y2="392" stroke="#2b2b2b" stroke-width="1.0"/>
<line x1="365.15" y1="380.8" x2="375.15" y2="380.8" stroke="#2b2b2b" stroke-width="1.0"/>
<line x1="365.15" y1="392" x2="375.15" y2="392" stroke="#2b2b2b" stroke-width="1.0"/>
<circle cx="381.78" cy="384.6" r="1.7" fill="none" stroke="#e2b07a" stroke-width="1.1"/>
<line x1="381.78" y1="379.8" x2="381.78" y2="392" stroke="#2b2b2b" stroke-width="1.0"/>
<line x1="376.78" y1="379.8" x2="386.78" y2="379.8" stroke="#2b2b2b" stroke-width="1.0"/>
<line x1="376.78" y1="392" x2="386.78" y2="392" stroke="#2b2b2b" stroke-width="1.0"/>
<circle cx="393.4" cy="386" r="1.7" fill="none" stroke="#e2b07a" stroke-width="1.1"/>
<line x1="393.4" y1="382" x2="393.4" y2="392" stroke="#2b2b2b" stroke-width="1.0"/>
<line x1="388.4" y1="382" x2="398.4" y2="382" stroke="#2b2b2b" stroke-width="1.0"/>
<line x1="388.4" y1="392" x2="398.4" y2="392" stroke="#2b2b2b" stroke-width="1.0"/>
<circle cx="405.02" cy="387.7" r="1.7" fill="none" stroke="#e2b07a" stroke-width="1.1"/>
<line x1="405.02" y1="384.7" x2="405.02" y2="391.8" stroke="#2b2b2b" stroke-width="1.0"/>
<line x1="400.02" y1="384.7" x2="410.02" y2="384.7" stroke="#2b2b2b" stroke-width="1.0"/>
<line x1="400.02" y1="391.8" x2="410.02" y2="391.8" stroke="#2b2b2b" stroke-width="1.0"/>
<circle cx="416.64" cy="391.5" r="1.7" fill="none" stroke="#e2b07a" stroke-width="1.1"/>
<line x1="416.64" y1="385" x2="416.64" y2="391.5" stroke="#2b2b2b" stroke-width="1.0"/>
<line x1="411.64" y1="385" x2="421.64" y2="385" stroke="#2b2b2b" stroke-width="1.0"/>
<circle cx="428.27" cy="384" r="1.7" fill="none" stroke="#e2b07a" stroke-width="1.1"/>
<line x1="428.27" y1="384" x2="428.27" y2="389.5" stroke="#2b2b2b" stroke-width="1.0"/>
<line x1="423.27" y1="389.5" x2="433.27" y2="389.5" stroke="#2b2b2b" stroke-width="1.0"/>
<circle cx="439.89" cy="392" r="1.7" fill="none" stroke="#e2b07a" stroke-width="1.1"/>
<line x1="439.89" y1="385" x2="439.89" y2="392" stroke="#2b2b2b" stroke-width="1.0"/>
<line x1="434.89" y1="385" x2="444.89" y2="385" stroke="#2b2b2b" stroke-width="1.0"/>
<circle cx="451.51" cy="390" r="1.7" fill="none" stroke="#e2b07a" stroke-width="1.1"/>
<line x1="451.51" y1="385" x2="451.51" y2="395" stroke="#2b2b2b" stroke-width="1.0"/>
<line x1="446.51" y1="385" x2="456.51" y2="385" stroke="#2b2b2b" stroke-width="1.0"/>
<line x1="446.51" y1="395" x2="456.51" y2="395" stroke="#2b2b2b" stroke-width="1.0"/>
<circle cx="463.13" cy="391.5" r="1.7" fill="none" stroke="#e2b07a" stroke-width="1.1"/>
<line x1="463.13" y1="385" x2="463.13" y2="391.5" stroke="#2b2b2b" stroke-width="1.0"/>
<line x1="458.13" y1="385" x2="468.13" y2="385" stroke="#2b2b2b" stroke-width="1.0"/>
<circle cx="474.76" cy="384" r="1.7" fill="none" stroke="#e2b07a" stroke-width="1.1"/>
<line x1="474.76" y1="384" x2="474.76" y2="388" stroke="#2b2b2b" stroke-width="1.0"/>
<line x1="469.76" y1="388" x2="479.76" y2="388" stroke="#2b2b2b" stroke-width="1.0"/>
<circle cx="486.38" cy="391.5" r="1.7" fill="none" stroke="#e2b07a" stroke-width="1.1"/>
<line x1="486.38" y1="388.8" x2="486.38" y2="394.4" stroke="#2b2b2b" stroke-width="1.0"/>
<line x1="481.38" y1="388.8" x2="491.38" y2="388.8" stroke="#2b2b2b" stroke-width="1.0"/>
<line x1="481.38" y1="394.4" x2="491.38" y2="394.4" stroke="#2b2b2b" stroke-width="1.0"/>
<circle cx="498" cy="376.7" r="1.8" fill="none" stroke="#e2b07a" stroke-width="1.0"/>
</g>
</svg>
</body></html>
